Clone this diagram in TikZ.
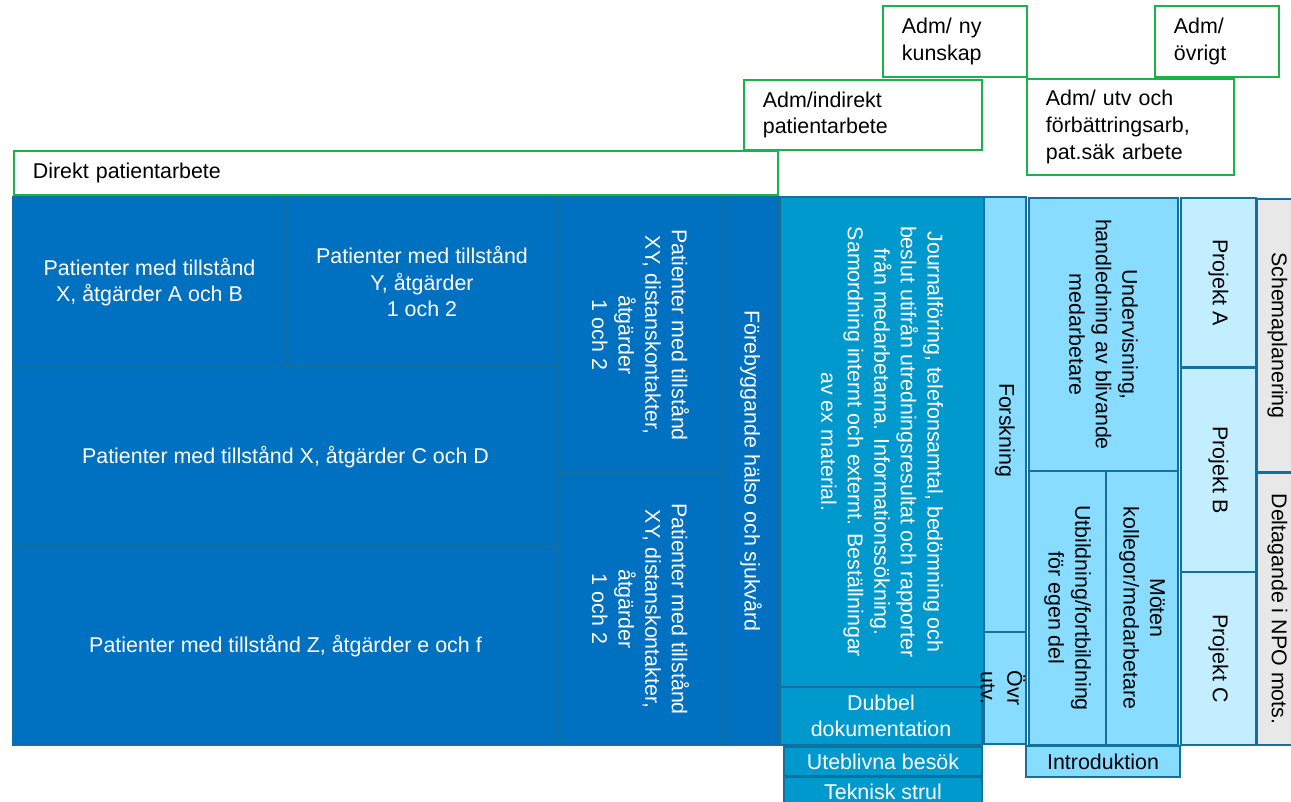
\documentclass[tikz,border=0pt]{standalone}
\usepackage{fontspec}
\setmainfont{Liberation Sans}
\definecolor{darkblue}{HTML}{0070C0}
\definecolor{midblue}{HTML}{0099CE}
\definecolor{lightblue}{HTML}{87DCFF}
\definecolor{paleblue}{HTML}{C3EEFF}
\definecolor{greyfill}{HTML}{E8E8E8}
\definecolor{cellborder}{HTML}{13709E}
\definecolor{admgreen}{HTML}{1DB14B}

\begin{document}
\begin{tikzpicture}[x=1pt, y=-1pt,
  celltext/.style={align=center, inner sep=0pt, font=\fontsize{21.4}{26.6}\selectfont},
  cell/.style={celltext, draw=cellborder, line width=2pt, inner sep=1pt},
  darkcell/.style={cell, fill=darkblue, text=white},
  midcell/.style={cell, fill=midblue, text=white},
  lightcell/.style={cell, fill=lightblue},
  palecell/.style={cell, fill=paleblue},
  greycell/.style={cell, fill=greyfill},
  admbox/.style={draw=admgreen, line width=1.8pt, fill=white, anchor=north west,
    align=left, inner xsep=19pt, inner ysep=0pt, font=\fontsize{21.4}{26.6}\selectfont}]
  \useasboundingbox (0,0) rectangle (1291,802);

  \node[admbox, text width=726pt, minimum height=44pt] (direkt) at (13,150) {Direkt patientarbete};
  \node[admbox, text width=200pt, minimum height=70pt] (indirekt) at (743,79) {Adm/indirekt\\patientarbete};
  \node[admbox, text width=106pt, minimum height=71pt] (nykunskap) at (882,5) {Adm/ ny\\kunskap};
  \node[admbox, text width=86pt, minimum height=71pt] (ovrigt) at (1154,5) {Adm/\\övrigt};
  \node[admbox, text width=169pt, minimum height=96pt] (utvarb) at (1026,78) {Adm/ utv och\\förbättringsarb,\\pat.säk arbete};

  \node[darkcell, minimum width=273pt, minimum height=170pt] (pab) at (149.5,282) {Patienter med tillstånd\\X, åtgärder A och B};
  \node[darkcell, minimum width=272pt, minimum height=169pt] (py) at (422,281.5) {Patienter med tillstånd\\Y, åtgärder\\1 och 2};
  \node[darkcell, minimum width=545pt, minimum height=180pt] (pcd) at (285.5,457) {Patienter med tillstånd X, åtgärder C och D};
  \node[darkcell, minimum width=545pt, minimum height=198pt] (pz) at (285.5,646) {Patienter med tillstånd Z, åtgärder e och f};
  \node[darkcell, rotate=-90, minimum width=276pt, minimum height=165pt] (pxy1) at (640.5,335) {Patienter med tillstånd\\XY, distanskontakter,\\åtgärder\\1 och 2};
  \node[darkcell, rotate=-90, minimum width=272pt, minimum height=165pt] (pxy2) at (640.5,609) {Patienter med tillstånd\\XY, distanskontakter,\\åtgärder\\1 och 2};
  \node[darkcell, rotate=-90, minimum width=548pt, minimum height=56pt] (forebygg) at (751,471) {Förebyggande hälso och sjukvård};

  \node[midcell, rotate=-90, minimum width=490pt, minimum height=204pt] (journal) at (882,442) {Journalföring, telefonsamtal, bedömning och\\beslut utifrån utredningsresultat och rapporter\\från medarbetarna. Informationssökning.\\Samordning internt och externt. Beställningar\\av ex material.};
  \node[midcell, minimum width=202pt, minimum height=58pt] (dubbel) at (881,716) {Dubbel\\dokumentation};
  \node[midcell, minimum width=198pt, minimum height=29pt] (uteblivna) at (883,761.5) {Uteblivna besök};
  \node[midcell, minimum width=198pt, minimum height=29pt] (teknisk) at (883,791.5) {Teknisk strul};

  \node[lightcell, minimum width=42pt, minimum height=435pt] (forskning) at (1005,414.5) {};
  \node[celltext, rotate=-90] (forskning-t) at (1005,430) {Forskning};
  \node[lightcell, minimum width=42pt, minimum height=112pt] (ovrutv) at (1005,688) {};
  \node[celltext, rotate=-90] (ovrutv-t) at (1003,688) {Övr\\utv.};
  \node[lightcell, rotate=-90, minimum width=273pt, minimum height=149pt] (underv) at (1103.5,334.5) {Undervisning,\\handledning av blivande\\medarbetare};
  \node[lightcell, rotate=-90, minimum width=274pt, minimum height=77pt] (utbildning) at (1067.5,608) {Utbildning/fortbildning\\för egen del};
  \node[lightcell, rotate=-90, minimum width=274pt, minimum height=72pt] (moten) at (1142,608) {Möten\\kollegor/medarbetare};
  \node[lightcell, minimum width=154pt, minimum height=31pt] (intro) at (1103,761.5) {Introduktion};

  \node[palecell, rotate=-90, minimum width=169pt, minimum height=75pt] (projA) at (1218.5,282.5) {Projekt A};
  \node[palecell, rotate=-90, minimum width=204pt, minimum height=75pt] (projB) at (1218.5,470) {Projekt B};
  \node[palecell, rotate=-90, minimum width=173pt, minimum height=75pt] (projC) at (1218.5,658.5) {Projekt C};

  \node[greycell, rotate=-90, minimum width=273pt, minimum height=41pt] (schema) at (1277.5,335.5) {Schemaplanering};
  \node[greycell, rotate=-90, minimum width=272pt, minimum height=41pt] (npo) at (1277.5,609) {Deltagande i NPO mots.};
\end{tikzpicture}
\end{document}
